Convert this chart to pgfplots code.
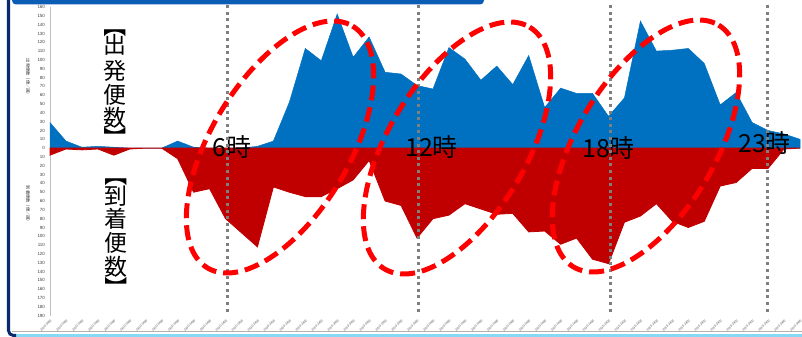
\documentclass[border=0pt]{standalone}
\usepackage{pgfplots}
\pgfplotsset{compat=1.18}
\usepackage{fontspec}
\setmainfont{Liberation Sans}
\newfontfamily\jp{Noto Sans CJK JP}
\definecolor{barblue}{HTML}{0070C0}
\definecolor{barred}{HTML}{C00000}
\definecolor{headblue}{HTML}{0A5CB4}
\definecolor{navyline}{HTML}{0B2A6B}
\definecolor{cyanline}{HTML}{86D8F5}
\definecolor{dotgray}{HTML}{7F7F7F}
\begin{document}
\begin{tikzpicture}
\useasboundingbox (0,0) rectangle (802bp,337bp);
\begin{axis}[
  at={(50bp,21.3bp)}, anchor=south west,
  scale only axis, width=750bp, height=308.7bp,
  xmin=0, xmax=47, ymin=-190, ymax=160,
  axis x line=none,
  axis y line*=left,
  y axis line style={draw=black!25, line width=0.5bp},
  xtick={0,...,47},
  ytick={-190,-180,...,160},
  major tick length=0pt,
  xmajorgrids, major grid style={draw=black!6, line width=0.6bp},
  /pgf/number format/assume math mode=true,
  yticklabel={\pgfmathparse{abs(\tick)}\pgfmathprintnumber[fixed,precision=0]{\pgfmathresult}},
  yticklabel style={font=\fontsize{4.5}{5}\selectfont, text=black!75, xshift=-1.5bp},
  clip=false,
]
\addplot[fill=barblue, draw=barblue, line width=0.5bp] coordinates {
(0,29)(1,8)(2,1)(3,2)(4,1)(5,0)(6,0)(7,0)(8,8)(9,1)(10,0)(11,0)
(12,0)(13,2)(14,8)(15,52)(16,113)(17,99)(18,152)(19,103)(20,126)(21,86)(22,84)(23,71)
(24,67)(25,114)(26,101)(27,77)(28,93)(29,72)(30,105)(31,46)(32,68)(33,62)(34,62)(35,36)
(36,57)(37,144)(38,110)(39,111)(40,113)(41,96)(42,49)(43,63)(44,29)(45,20)(46,16)(47,10)
} \closedcycle;
\addplot[fill=barred, draw=barred, line width=0.8bp] coordinates {
(0,-8)(1,-1)(2,-2)(3,-1)(4,-8)(5,-1)(6,0)(7,0)(8,-12)(9,-50)(10,-46)(11,-80)
(12,-96)(13,-112)(14,-44)(15,-50)(16,-55)(17,-55)(18,-46)(19,-36)(20,-14)(21,-60)(22,-65)(23,-102)
(24,-80)(25,-76)(26,-63)(27,-69)(28,-75)(29,-74)(30,-95)(31,-94)(32,-109)(33,-102)(34,-126)(35,-131)
(36,-84)(37,-77)(38,-63)(39,-83)(40,-90)(41,-83)(42,-43)(43,-39)(44,-23)(45,-23)(46,-1)(47,0)
} \closedcycle;
\pgfplotsinvokeforeach{0,...,47}{
  \pgfmathtruncatemacro{\hA}{floor(#1/2)}
  \pgfmathtruncatemacro{\mA}{mod(#1,2)*30}
  \pgfmathtruncatemacro{\hB}{floor((#1+1)/2)}
  \pgfmathtruncatemacro{\mB}{mod(#1+1,2)*30}
  \edef\lab{\ifnum\hA<10 0\fi\hA\ifnum\mA<10 0\fi\mA-\ifnum\hB<10 0\fi\hB\ifnum\mB<10 0\fi\mB}
  \node[font=\fontsize{3.1}{3.3}\selectfont, text=black!70, rotate=45, anchor=north east, inner sep=0.3bp, yshift=-2.5bp, xshift=-2bp]
    at (axis cs:#1,-190) {\lab};
}
\end{axis}
\begin{scope}[yshift=337bp, x=1bp, y=-1bp]
  % frame decorations
  \fill[headblue, rounded corners=4bp] (12,-12) rectangle (484,4.5);
  \draw[black!30, line width=0.5bp] (12,331.5) -- (802,331.5);
  \draw[cyanline, line width=3bp] (12,335.5) -- (802,335.5);
  \draw[navyline, line width=3bp, rounded corners=5bp] (8.5,-2) -- (8.5,335.5) -- (16,335.5);
  % axis titles (tiny)
  \node[rotate=-90, font=\jp\fontsize{4.3}{4.5}\selectfont, text=black!80] at (28,78) {出発便数（便／週）};
  \node[rotate=-90, font=\jp\fontsize{4.3}{4.5}\selectfont, text=black!80] at (28,205) {到着便数（便／週）};
  % big vertical labels, one node per character
  \tikzset{vj/.style={inner sep=0pt, font=\jp\fontsize{23}{23}\selectfont}}
  \node[vj, rotate=-90] at (115,25.5) {【};
  \node[vj] at (115,45) {出};
  \node[vj] at (115,71) {発};
  \node[vj] at (115,95) {便};
  \node[vj] at (115,117.5) {数};
  \node[vj, rotate=-90] at (115,138) {】};
  \node[vj, rotate=-90] at (116,175) {【};
  \node[vj] at (116,196) {到};
  \node[vj] at (116,219) {着};
  \node[vj] at (116,242.5) {便};
  \node[vj] at (116,267) {数};
  \node[vj, rotate=-90] at (116,288) {】};
  % hour labels
  \node[anchor=base west, inner sep=0pt, font=\jp\fontsize{25}{25}\selectfont] at (212,157) {6時};
  \node[anchor=base west, inner sep=0pt, font=\jp\fontsize{25}{25}\selectfont] at (405,156.5) {12時};
  \node[anchor=base west, inner sep=0pt, font=\jp\fontsize{25}{25}\selectfont] at (582,158) {18時};
  \node[anchor=base west, inner sep=0pt, font=\jp\fontsize{25}{25}\selectfont] at (738,153) {23時};
  % dotted hour lines
  \foreach \xx in {227.7,418.3,610.3,767} {
    \draw[dotgray, line width=3bp, dash pattern=on 3bp off 3.6bp] (\xx,5) -- (\xx,313);
  }
  % red dashed ellipses
  \foreach \cx/\cy in {280/147, 457/148, 646/146} {
    \draw[red, line width=5bp, dash pattern=on 15bp off 7bp, rotate around={59:(\cx,\cy)}]
      (\cx,\cy) ellipse [x radius=141, y radius=69];
  }
\end{scope}
\end{tikzpicture}
\end{document}
